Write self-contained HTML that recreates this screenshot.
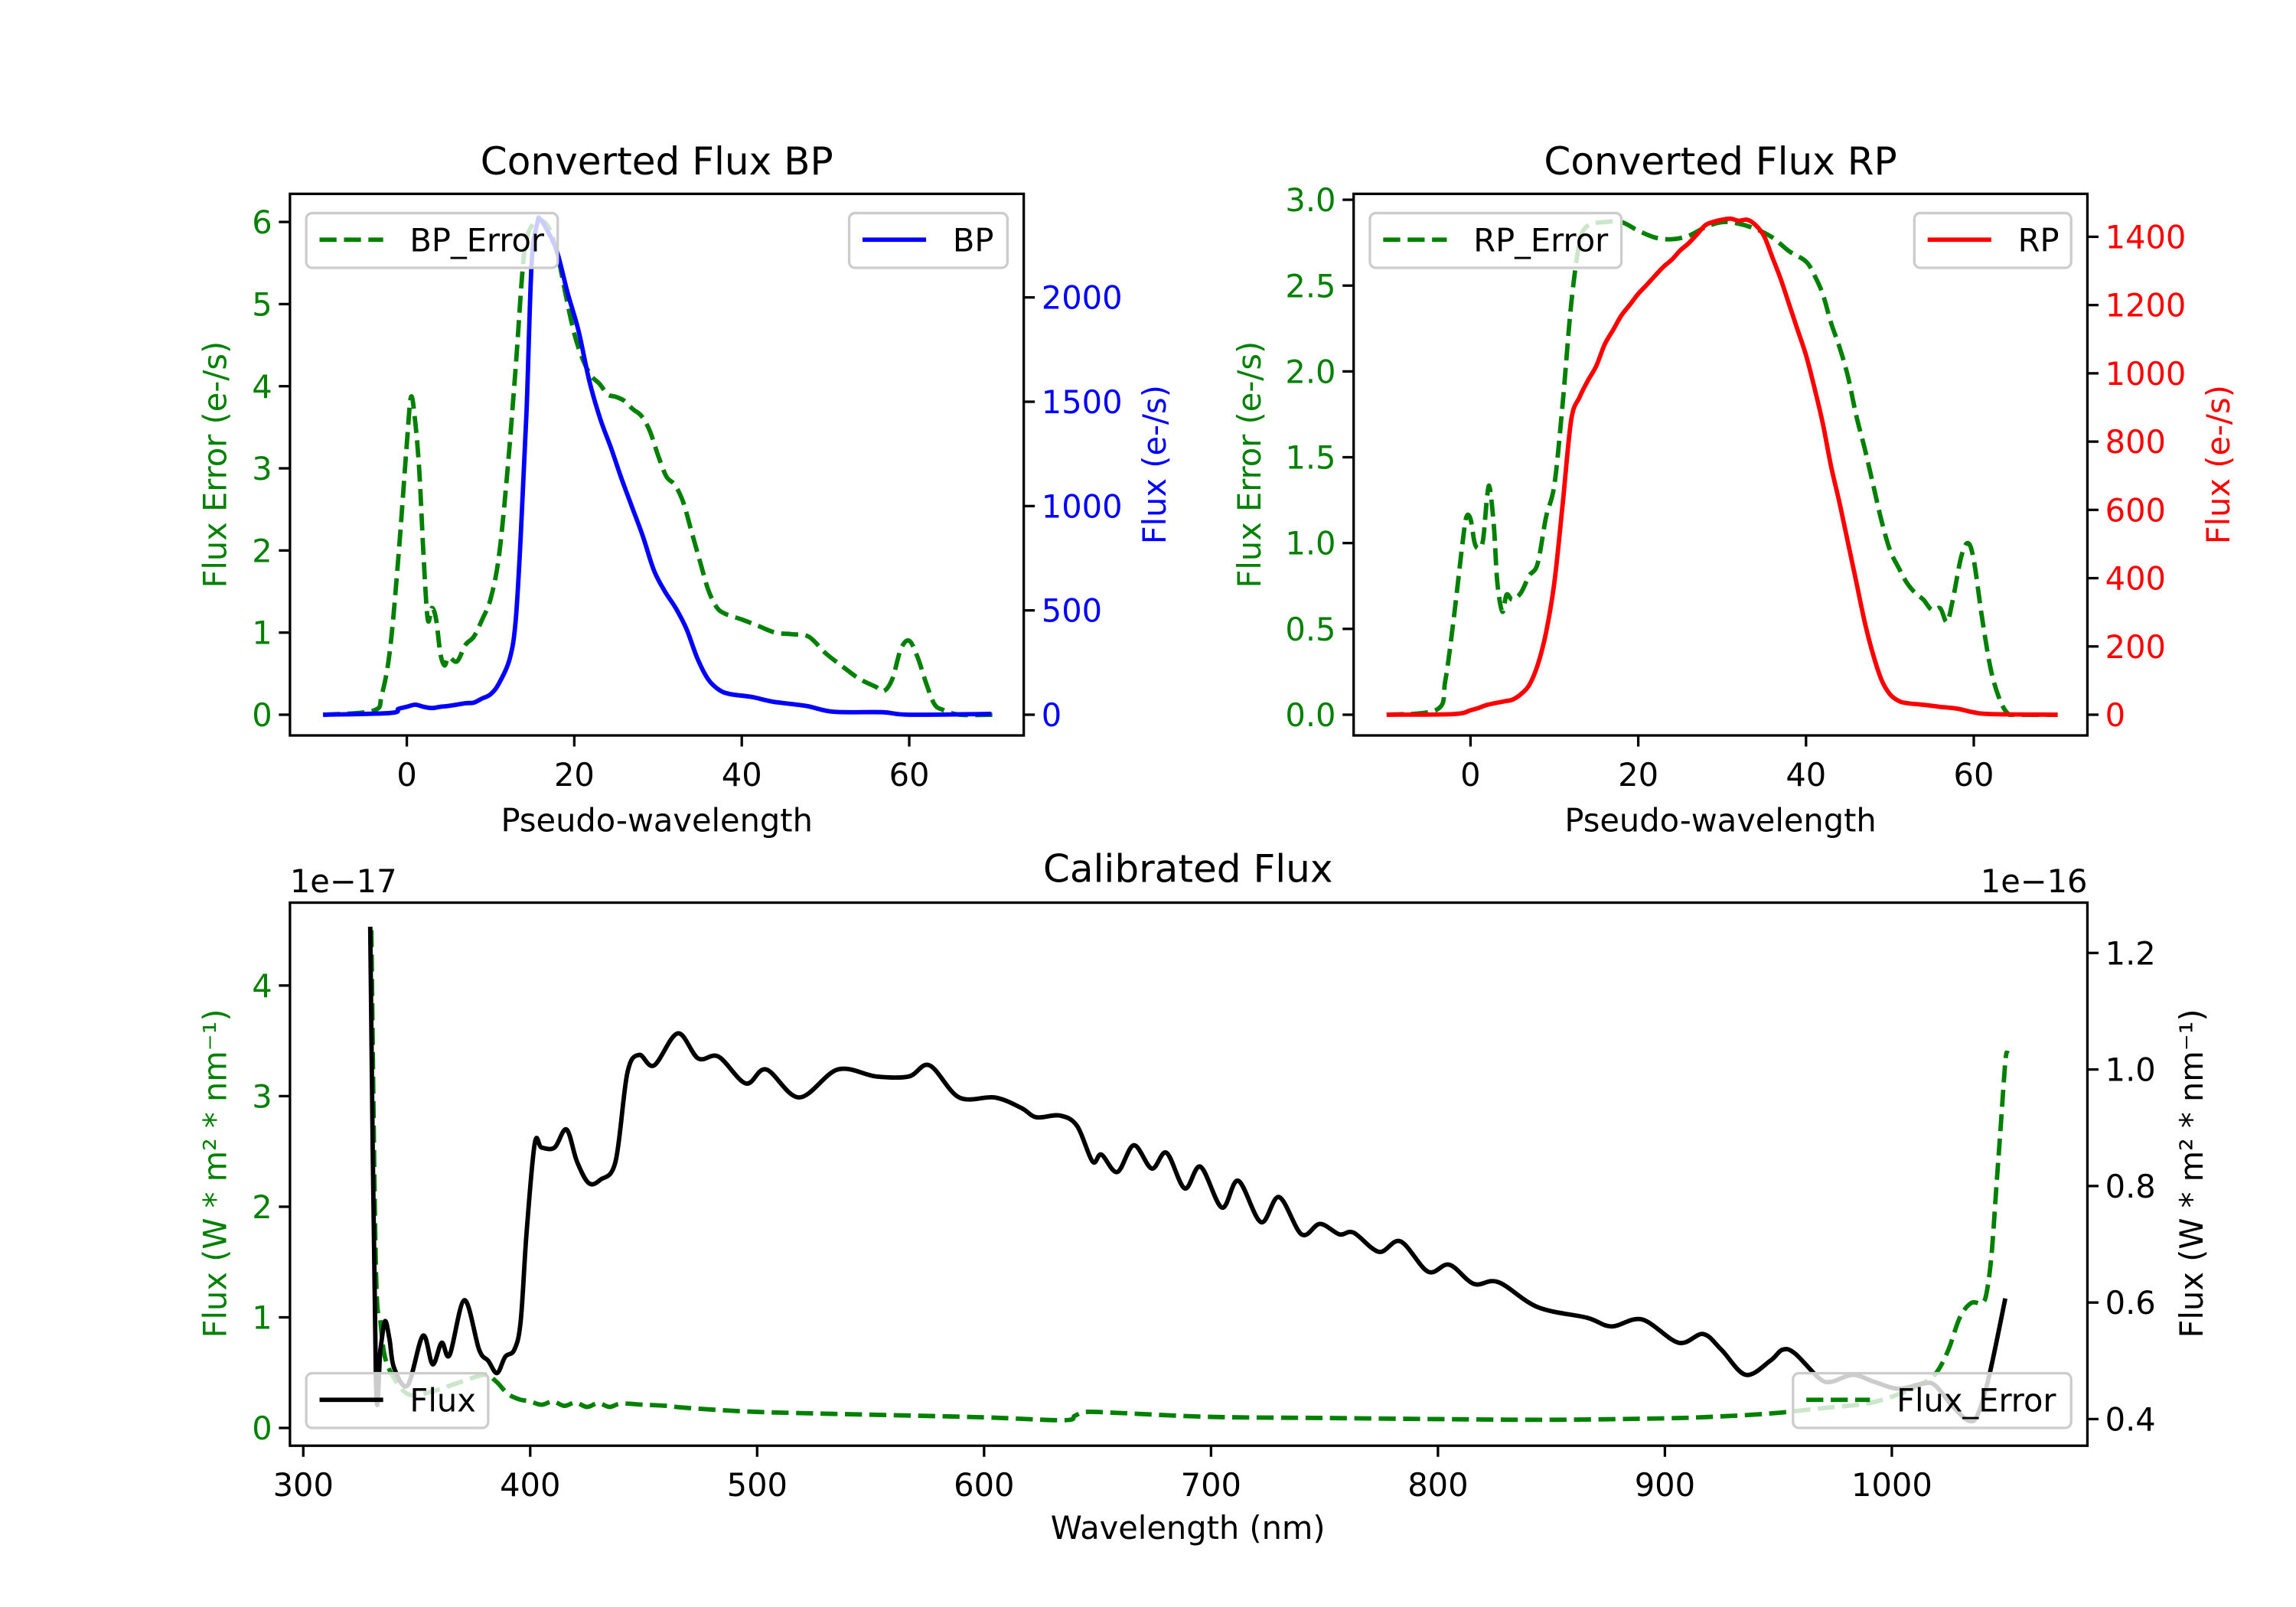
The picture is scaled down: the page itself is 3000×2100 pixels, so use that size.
<!DOCTYPE html>
<html><head><meta charset="utf-8">
<style>
html,body{margin:0;padding:0;background:#fff;}
svg{display:block;}
text{font-family:"DejaVu Sans","Liberation Sans",sans-serif;}
</style></head>
<body>
<svg id="fig" width="3000" height="2100" viewBox="0 0 1552 1086" preserveAspectRatio="none" xmlns="http://www.w3.org/2000/svg">
<rect x="0" y="0" width="1552" height="1086" fill="#fff"/>
</svg>
<script>
// ---- BP panel data ----
const bpErrX = [-10,-4,-3,-2,-1,0,0.5,1,1.5,2,2.5,3,3.5,4,4.5,5,6,7,8,9,10,11,12,13,14,15,16,17,18,19,20,21,22,23,24,25,26,27,28,29,30,31,32,33,34,35,36,37,38,40,42,44,46,48,50,52,54,56,57,58,59,60,61,62,63,64,66,70];
const bpErrY = [0,0.05,0.24,0.8,1.93,3.3,3.87,3.57,2.95,1.93,1.16,1.3,1.16,0.75,0.6,0.7,0.65,0.85,0.95,1.16,1.41,1.93,2.95,4.23,5.6,5.97,6.02,5.92,5.6,5.1,4.64,4.33,4.13,4.03,3.9,3.87,3.82,3.72,3.64,3.46,3.16,2.9,2.8,2.59,2.23,1.87,1.52,1.31,1.23,1.16,1.08,1.0,0.98,0.95,0.75,0.59,0.44,0.34,0.29,0.44,0.8,0.9,0.7,0.39,0.13,0.06,0,0];
const bpX = [-10,-2,-1,0,1,2,3,4,5,7,8,9,10,11,12.3,13.0,13.6,14.3,14.9,15.6,15.9,16.6,17.9,19.2,20.5,21.8,23.1,24.4,25.6,26.9,28.2,29.5,30.8,32.1,33.4,34.7,36.0,37.3,38.6,41.2,43.8,47.7,51,56.8,60,69.8];
const bpY = [0,8,28,38,48,38,32,38,42,55,58,78,98,150,270,451,854,1458,2160,2360,2375,2334,2224,2022,1841,1599,1418,1277,1136,995,854,693,592,512,411,270,169,119,99,85,62,42,14,12,0,4];
const bpXTicks = [0,20,40,60];
const bpLTicks = [0,1,2,3,4,5,6];
const bpRTicks = [0,500,1000,1500,2000];
// ---- RP panel data ----
const rpErrX = [-10,-4,-3,-2,-1,-0.5,0,0.5,1,1.5,2,2.3,2.8,3.2,3.8,4.3,5,6,7,8,9,10,11,12,13,14,16,18,20,22,24,26,28,30,32,34,36,38,40,41,42,43,44,45,46,47,48,49,50,51,52,53,54,55,56,56.8,57.5,58.5,59.3,60,61,62,63,64,65,70];
const rpErrY = [0,0.03,0.2,0.56,0.98,1.15,1.14,1.0,0.97,1.02,1.28,1.32,1.09,0.77,0.6,0.7,0.67,0.71,0.81,0.88,1.15,1.34,1.82,2.39,2.75,2.85,2.87,2.87,2.82,2.78,2.77,2.79,2.84,2.87,2.86,2.83,2.78,2.7,2.64,2.56,2.45,2.28,2.14,1.97,1.74,1.55,1.34,1.13,0.96,0.86,0.77,0.71,0.67,0.61,0.62,0.54,0.67,0.92,1.0,0.9,0.56,0.27,0.1,0.01,0,0];
const rpX = [-10,-2,0,1,2,4,5,6,7,8,9,10,11,12,13,14,15,16,17,18,19,20,21,22,23,24,25,26,27,28,29,30,31,32,33,34,35,36,37,38,39,40,41,42,43,44,45,46,47,48,49,50,51,52,54,56,58,60,62,70];
const rpY = [0,2,13,20,29,39,44,60,87,145,240,388,620,863,930,979,1022,1085,1127,1170,1201,1233,1259,1286,1312,1333,1360,1381,1407,1434,1444,1450,1453,1447,1450,1434,1402,1339,1275,1201,1127,1053,958,853,726,620,504,388,271,176,102,60,41,34,29,23,18,7,2,0];
const rpXTicks = [0,20,40,60];
const rpLTicks = [0.0,0.5,1.0,1.5,2.0,2.5,3.0];
const rpLLabels = ["0.0","0.5","1.0","1.5","2.0","2.5","3.0"];
const rpRTicks = [0,200,400,600,800,1000,1200,1400];
// ---- Calibrated flux data ----
const wlFlux = [329.5,332,334,336,338,340,346,352.7,357,361,364.5,371,377.5,381.5,385.4,389,393,395.8,398.4,402,405,410.7,416,420.6,425.8,431,437.6,442.8,448,454.6,465,474,483,495,504,518.5,535.5,552.5,566.8,576,589,604.7,616.4,623,633.4,641,647.8,651.7,658.7,666,673.9,680.4,688.4,695.4,704.8,712,722,730,739.9,748,756.6,762.8,774,783.5,795.6,805,815.8,826.6,844,865.6,876.4,889.9,906,916.8,924.9,935.6,946.4,951.8,957.2,968,973.4,982.8,992.2,1003,1013.8,1019,1027,1034,1038,1043,1050];
const fluxVal = [1.245,0.47,0.52,0.568,0.537,0.488,0.458,0.543,0.494,0.531,0.51,0.604,0.519,0.5,0.479,0.507,0.519,0.568,0.72,0.873,0.866,0.866,0.897,0.842,0.805,0.811,0.842,0.994,1.025,1.007,1.062,1.019,1.022,0.976,1.0,0.952,1.0,0.988,0.988,1.007,0.952,0.952,0.934,0.918,0.921,0.903,0.842,0.854,0.824,0.87,0.83,0.857,0.796,0.833,0.763,0.809,0.738,0.781,0.717,0.735,0.717,0.72,0.687,0.705,0.653,0.665,0.632,0.635,0.592,0.574,0.559,0.571,0.531,0.546,0.519,0.476,0.5,0.519,0.513,0.47,0.464,0.476,0.464,0.452,0.461,0.458,0.421,0.397,0.409,0.476,0.607];
const wlErr = [330,332,334,336,340,345,350,355,360,370,380,385,390,395,400,405,410,415,420,425,430,435,440,450,460,470,500,550,600,635,640,645,660,700,750,800,850,900,920,946,970,990,1005,1015,1020,1025,1030,1035,1040,1042,1044,1046,1048,1050,1051];
const errVal = [4.5,1.45,0.96,0.64,0.45,0.32,0.29,0.32,0.35,0.42,0.48,0.42,0.31,0.26,0.24,0.21,0.24,0.2,0.23,0.19,0.225,0.19,0.22,0.21,0.2,0.18,0.145,0.12,0.096,0.07,0.11,0.145,0.135,0.1,0.09,0.08,0.074,0.087,0.1,0.13,0.18,0.225,0.32,0.42,0.51,0.71,1.0,1.13,1.13,1.25,1.58,2.16,2.73,3.31,3.41];
const calXTicks = [300,400,500,600,700,800,900,1000];
const calLTicks = [0,1,2,3,4];
const calRTicks = [0.4,0.6,0.8,1.0,1.2];
const calRLabels = ["0.4","0.6","0.8","1.0","1.2"];

const NS = "http://www.w3.org/2000/svg";
const svg = document.getElementById('fig');
function mk(tag, attrs, parent){
  const e = document.createElementNS(NS, tag);
  for (const k in attrs) e.setAttribute(k, attrs[k]);
  (parent||svg).appendChild(e);
  return e;
}
function txt(s, x, y, size, fill, anchor, parent){
  const t = mk('text', {x:x, y:y, 'font-size':size, fill:fill, 'text-anchor':anchor||'middle'}, parent);
  t.textContent = s;
  return t;
}
// Catmull-Rom smoothed path through data points
function pathFrom(xs, ys, fx, fy){
  const P = xs.map((x,i)=>[fx(x), fy(ys[i])]);
  let d = 'M' + P[0][0].toFixed(2) + ',' + P[0][1].toFixed(2);
  for (let i=0;i<P.length-1;i++){
    const p0 = P[i-1]||P[i], p1 = P[i], p2 = P[i+1], p3 = P[i+2]||P[i+1];
    const c1x = p1[0] + (p2[0]-p0[0])/6, c1y = p1[1] + (p2[1]-p0[1])/6;
    const c2x = p2[0] - (p3[0]-p1[0])/6, c2y = p2[1] - (p3[1]-p1[1])/6;
    d += 'C' + c1x.toFixed(2)+','+c1y.toFixed(2)+' '+c2x.toFixed(2)+','+c2y.toFixed(2)+' '+p2[0].toFixed(2)+','+p2[1].toFixed(2);
  }
  return d;
}
const FS = 21.5, TS = 25.9, LW = 3.0, DASH = "11.5 5";

function frame(g, l, t, r, b){
  const f = mk('rect', {x:l, y:t, width:r-l, height:b-t, fill:'none', stroke:'#000', 'stroke-width':1.7}, g);
  
  
}
function legend(g, name, x, y, w, label, color, dashed){
  const lg = mk('g', {}, g);
  
  
  mk('rect', {x:x, y:y, width:w, height:37, rx:4, fill:'#fff', 'fill-opacity':0.8, stroke:'#ccc', 'stroke-width':1.7}, lg);
  const ln = mk('line', {x1:x+9, y1:y+18, x2:x+52, y2:y+18, stroke:color, 'stroke-width':LW}, lg);
  if (dashed) ln.setAttribute('stroke-dasharray', DASH);
  txt(label, x+70, y+26, FS, '#000', 'start', lg);
}
function yTicksLeft(g, ticks, labels, fy, xl, color){
  ticks.forEach((v,i)=>{
    const y = fy(v);
    mk('line', {x1:xl-7.5, y1:y, x2:xl, y2:y, stroke:'#000', 'stroke-width':1.7}, g);
    txt(labels?labels[i]:String(v), xl-12, y+7.8, FS, color, 'end', g);
  });
}
function yTicksRight(g, ticks, labels, fy, xr, color){
  ticks.forEach((v,i)=>{
    const y = fy(v);
    mk('line', {x1:xr, y1:y, x2:xr+7.5, y2:y, stroke:'#000', 'stroke-width':1.7}, g);
    txt(labels?labels[i]:String(v), xr+12, y+7.8, FS, color, 'start', g);
  });
}
function xTicks(g, ticks, fx, yb){
  ticks.forEach(v=>{
    const x = fx(v);
    mk('line', {x1:x, y1:yb, x2:x, y2:yb+7.5, stroke:'#000', 'stroke-width':1.7}, g);
    txt(String(v), x, yb+34, FS, '#000', 'middle', g);
  });
}
function vlabel(g, s, x, y, color){
  const t = mk('text', {x:0, y:0, 'font-size':FS, fill:color, 'text-anchor':'middle', transform:`translate(${x},${y}) rotate(-90)`}, g);
  t.textContent = s;
  return t;
}

// ===== BP panel =====
{
  const g = mk('g', {});
  
  
  const fx = v => 275 + v*5.66;
  const fyL = v => 483 - v*55.5;
  const fyR = v => 483 - v*0.1410;
  const t = txt('Converted Flux BP', 444, 118, TS, '#000', 'middle', g);
  
  
  const e = mk('path', {d:pathFrom(bpErrX,bpErrY,fx,fyL), fill:'none', stroke:'#008000', 'stroke-width':LW, 'stroke-dasharray':DASH}, g);
  
  
  const b = mk('path', {d:pathFrom(bpX,bpY,fx,fyR), fill:'none', stroke:'#0000ff', 'stroke-width':LW}, g);
  
  
  frame(g,196,131,692,497);
  yTicksLeft(g, bpLTicks, null, fyL, 196, '#008000');
  yTicksRight(g, bpRTicks, null, fyR, 692, '#0000ff');
  xTicks(g, bpXTicks, fx, 497);
  const xl = txt('Pseudo-wavelength', 444, 562, FS, '#000', 'middle', g);
  
  
  const yl = vlabel(g, 'Flux Error (e-/s)', 153, 314, '#008000');
  
  
  const yr = vlabel(g, 'Flux (e-/s)', 788, 314, '#0000ff');
  
  
  legend(g,'bp-error-legend',207,144,170,'BP_Error','#008000',true);
  legend(g,'bp-legend',574,144,107,'BP','#0000ff',false);
}
// ===== RP panel =====
{
  const g = mk('g', {});
  
  
  const fx = v => 994 + v*5.67;
  const fyL = v => 483 - v*116;
  const fyR = v => 483 - v*0.2307;
  const t = txt('Converted Flux RP', 1163, 118, TS, '#000', 'middle', g);
  
  
  const e = mk('path', {d:pathFrom(rpErrX,rpErrY,fx,fyL), fill:'none', stroke:'#008000', 'stroke-width':LW, 'stroke-dasharray':DASH}, g);
  
  
  const r = mk('path', {d:pathFrom(rpX,rpY,fx,fyR), fill:'none', stroke:'#ff0000', 'stroke-width':LW}, g);
  
  
  frame(g,915,131,1411,497);
  yTicksLeft(g, rpLTicks, rpLLabels, fyL, 915, '#008000');
  yTicksRight(g, rpRTicks, null, fyR, 1411, '#ff0000');
  xTicks(g, rpXTicks, fx, 497);
  const xl = txt('Pseudo-wavelength', 1163, 562, FS, '#000', 'middle', g);
  
  
  const yl = vlabel(g, 'Flux Error (e-/s)', 852, 314, '#008000');
  
  
  const yr = vlabel(g, 'Flux (e-/s)', 1507, 314, '#ff0000');
  
  
  legend(g,'rp-error-legend',926,144,170,'RP_Error','#008000',true);
  legend(g,'rp-legend',1294,144,106,'RP','#ff0000',false);
}
// ===== Calibrated panel =====
{
  const g = mk('g', {});
  
  
  const fx = v => 205 + (v-300)*1.534;
  const fyL = v => 965 - v*74.75;
  const fyR = v => 959 - (v-0.4)*393.75;
  const t = txt('Calibrated Flux', 803, 596, TS, '#000', 'middle', g);
  
  
  const o1 = txt('1e\u221217', 196, 603, FS, '#000', 'start', g);
  
  
  const o2 = txt('1e\u221216', 1411, 603, FS, '#000', 'end', g);
  
  
  const e = mk('path', {d:pathFrom(wlErr,errVal,fx,fyL), fill:'none', stroke:'#008000', 'stroke-width':LW, 'stroke-dasharray':DASH}, g);
  
  
  const f = mk('path', {d:pathFrom(wlFlux,fluxVal,fx,fyR), fill:'none', stroke:'#000', 'stroke-width':LW}, g);
  
  
  frame(g,196,610,1411,977);
  yTicksLeft(g, calLTicks, null, fyL, 196, '#008000');
  yTicksRight(g, calRTicks, calRLabels, fyR, 1411, '#000');
  xTicks(g, calXTicks, fx, 977);
  const xl = txt('Wavelength (nm)', 803, 1040, FS, '#000', 'middle', g);
  
  
  const yl = vlabel(g, 'Flux (W * m² * nm⁻¹)', 153, 793, '#008000');
  
  
  const yr = vlabel(g, 'Flux (W * m² * nm⁻¹)', 1489, 793, '#000');
  
  
  legend(g,'flux-legend',207,928,123,'Flux','#000',false);
  legend(g,'flux-error-legend',1212,928,188,'Flux_Error','#008000',true);
}
</script>
</body></html>
